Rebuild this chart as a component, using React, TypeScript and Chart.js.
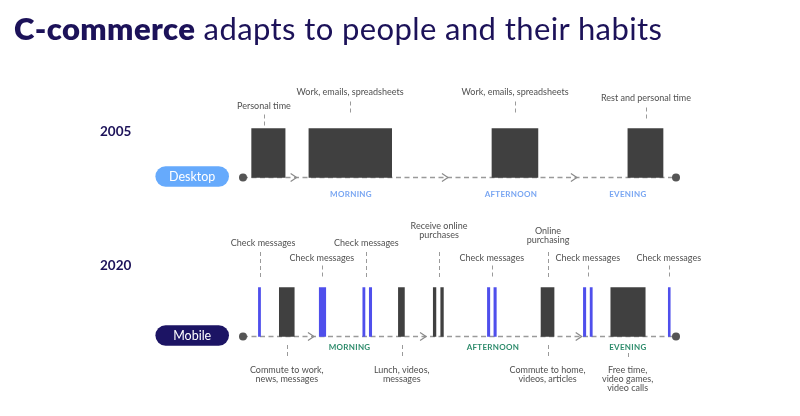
import React, { useEffect, useRef } from "react";
import { Chart, registerables } from "chart.js";

Chart.register(...registerables);

// ---------- DATA (time of day, hours) ----------
const ROWS = ["Desktop", "Mobile"];
const YEARS = ["2005", "2020"];
const DAY_START = 6;
const DAY_END = 24;

const desktopSessions: [number, number][] = [
  [6.36, 7.75],
  [8.74, 12.18],
  [16.35, 18.26],
  [22.0, 23.46],
];

const mobileSessions: [number, number][] = [
  [7.51, 8.13],
  [12.46, 12.71],
  [13.91, 14.02],
  [14.22, 14.33],
  [18.39, 18.93],
  [21.29, 22.72],
];

const mobileChecks: [number, number][] = [
  [6.64, 6.73],
  [9.17, 9.44],
  [10.98, 11.07],
  [11.25, 11.35],
  [16.16, 16.26],
  [16.43, 16.53],
  [20.15, 20.25],
  [20.43, 20.52],
  [23.68, 23.76],
];

const PERIODS = ["MORNING", "AFTERNOON", "EVENING"];
const desktopPeriodStarts = [8.23, 14.52, 19.88];
const desktopPeriodLabelAt = [10.49, 17.14, 22.0];
const mobilePeriodStarts = [8.95, 13.61, 20.08];
const mobilePeriodLabelAt = [10.43, 16.39, 22.0];

const desktopNoteTimes = [6.87, 10.45, 17.31, 22.75];
const desktopNoteTexts = [
  ["Personal time"],
  ["Work, emails, spreadsheets"],
  ["Work, emails, spreadsheets"],
  ["Rest and personal time"],
];

const mobileTopNoteTimes = [6.71, 9.28, 11.13, 14.15, 16.34, 18.68, 20.33, 23.7];
const mobileTopNoteTexts = [
  ["Check messages"],
  ["Check messages"],
  ["Check messages"],
  ["Receive online", "purchases"],
  ["Check messages"],
  ["Online", "purchasing"],
  ["Check messages"],
  ["Check messages"],
];

const mobileBottomNoteTimes = [7.82, 12.6, 18.66, 21.99];
const mobileBottomNoteTexts = [
  ["Commute to work,", "news, messages"],
  ["Lunch, videos,", "messages"],
  ["Commute to home,", "videos, articles"],
  ["Free time,", "video games,", "video calls"],
];

// ---------- LAYOUT / STYLE ----------
// tiers: offsets (px) relative to the bar top for notes above the bars
const TOP_TIERS = [
  { textBottom: -22, leaderTop: -14, leaderBottom: -1, dx: 0 },
  { textBottom: -36, leaderTop: -27, leaderBottom: -14, dx: 0 },
  { textBottom: -30, leaderTop: -21, leaderBottom: -9, dx: 0 },
  { textBottom: -44.5, leaderTop: -35.5, leaderBottom: -9.5, dx: 0 },
  { textBottom: -29.5, leaderTop: -22, leaderBottom: -9.5, dx: 0 },
  { textBottom: -52.5, leaderTop: -35.5, leaderBottom: -9.5, dx: 0 },
  { textBottom: -47, leaderTop: -35.5, leaderBottom: -9.5, dx: 0 },
  { textBottom: -44.5, leaderTop: -35.5, leaderBottom: -9.5, dx: 3 },
];
const desktopNoteTiers = [0, 1, 1, 2];
const mobileTopNoteTiers = [7, 4, 3, 5, 4, 6, 4, 4];
// offsets relative to the timeline for notes below
const BOTTOM_TIERS = [
  { leaderTop: 8.5, leaderBottom: 21.5, textTop: 33.5 },
  { leaderTop: 16.5, leaderBottom: 21.5, textTop: 33.5 },
];
const mobileBottomNoteTiers = [0, 0, 0, 1];

const YEAR_OFFSETS = [-45.5, -70.5]; // relative to timeline
const PILL_COLORS = ["#66aafc", "#1c1464"];
const PERIOD_COLORS = ["#79a6f2", "#2e8c6c"];
const DARK = "#404040";
const BLUE = "#4f4fec";
const NAVY = "#1c1259";
const NOTE_COLOR = "#505050";
const FONT = "Lato, 'Open Sans', sans-serif";

const overlayPlugin = {
  id: "timelineOverlay",
  beforeDatasetsDraw(chart: any) {
    const { ctx, scales } = chart;
    const xs = scales.x;
    const ys = scales.y;
    const half = 24.5;
    const starts = [desktopPeriodStarts, mobilePeriodStarts];
    ROWS.forEach((_, r) => {
      const ty = ys.getPixelForValue(r) + half;
      const x0 = xs.getPixelForValue(DAY_START);
      const x1 = xs.getPixelForValue(DAY_END);
      ctx.save();
      ctx.strokeStyle = "#9a9a9a";
      ctx.lineWidth = 1.5;
      ctx.setLineDash([5, 3.5]);
      ctx.beginPath();
      ctx.moveTo(x0, ty);
      ctx.lineTo(x1, ty);
      ctx.stroke();
      ctx.setLineDash([]);
      ctx.lineWidth = 1.2;
      ctx.strokeStyle = "#8a8a8a";
      starts[r].forEach((t) => {
        const ax = xs.getPixelForValue(t);
        ctx.beginPath();
        ctx.moveTo(ax - 6, ty - 4);
        ctx.lineTo(ax, ty);
        ctx.lineTo(ax - 6, ty + 4);
        ctx.stroke();
      });
      ctx.restore();
    });
  },
  afterDatasetsDraw(chart: any) {
    const { ctx, scales } = chart;
    const xs = scales.x;
    const ys = scales.y;
    const half = 24.5;
    const lineH = 9;

    const drawLeader = (x: number, yA: number, yB: number) => {
      ctx.save();
      ctx.strokeStyle = "#9a9a9a";
      ctx.lineWidth = 1;
      ctx.setLineDash([4, 3]);
      ctx.beginPath();
      ctx.moveTo(Math.round(x) + 0.5, yA);
      ctx.lineTo(Math.round(x) + 0.5, yB);
      ctx.stroke();
      ctx.restore();
    };

    ROWS.forEach((name, r) => {
      const cy = ys.getPixelForValue(r);
      const barTop = cy - half;
      const ty = cy + half;
      const x0 = xs.getPixelForValue(DAY_START);
      const x1 = xs.getPixelForValue(DAY_END);

      // end dots
      ctx.save();
      ctx.fillStyle = "#555555";
      [x0, x1].forEach((x) => {
        ctx.beginPath();
        ctx.arc(x, ty, 4, 0, Math.PI * 2);
        ctx.fill();
      });
      ctx.restore();

      // pill
      const pw = 73.6, ph = 20.5;
      const pr = x0 - 14;
      const pl = pr - pw;
      const pt = ty - 1 - ph / 2;
      ctx.save();
      ctx.fillStyle = PILL_COLORS[r];
      ctx.beginPath();
      ctx.roundRect(pl, pt, pw, ph, ph / 2);
      ctx.fill();
      ctx.fillStyle = "#ffffff";
      ctx.font = `12.5px ${FONT}`;
      ctx.textAlign = "center";
      ctx.textBaseline = "middle";
      ctx.fillText(name, pl + pw / 2, pt + ph / 2 + 0.5);
      ctx.restore();

      // year
      ctx.save();
      ctx.fillStyle = NAVY;
      ctx.font = `bold 13.5px ${FONT}`;
      ctx.textAlign = "left";
      ctx.textBaseline = "middle";
      ctx.fillText(YEARS[r], 100, ty + YEAR_OFFSETS[r]);
      ctx.restore();

      // period labels
      const labelAt = r === 0 ? desktopPeriodLabelAt : mobilePeriodLabelAt;
      ctx.save();
      ctx.fillStyle = PERIOD_COLORS[r];
      ctx.font = `bold 8px ${FONT}`;
      (ctx as any).letterSpacing = "0.3px";
      ctx.textAlign = "center";
      ctx.textBaseline = "middle";
      PERIODS.forEach((p, i) => {
        ctx.fillText(p, xs.getPixelForValue(labelAt[i]), ty + (r === 0 ? 16.5 : 10.5));
      });
      ctx.restore();

      // notes above
      const times = r === 0 ? desktopNoteTimes : mobileTopNoteTimes;
      const texts = r === 0 ? desktopNoteTexts : mobileTopNoteTexts;
      const tiers = r === 0 ? desktopNoteTiers : mobileTopNoteTiers;
      times.forEach((t, i) => {
        const x = xs.getPixelForValue(t);
        const tier = TOP_TIERS[tiers[i]];
        drawLeader(x, barTop + tier.leaderTop, barTop + tier.leaderBottom);
        ctx.save();
        ctx.fillStyle = NOTE_COLOR;
        ctx.font = `9px ${FONT}`;
        ctx.textAlign = "center";
        ctx.textBaseline = "middle";
        const lines = texts[i];
        lines.forEach((ln, k) => {
          const y = barTop + tier.textBottom - (lines.length - 1 - k) * lineH;
          ctx.fillText(ln, x + tier.dx, y);
        });
        ctx.restore();
      });

      // notes below (mobile only)
      if (r === 1) {
        mobileBottomNoteTimes.forEach((t, i) => {
          const x = xs.getPixelForValue(t);
          const tier = BOTTOM_TIERS[mobileBottomNoteTiers[i]];
          drawLeader(x, ty + tier.leaderTop, ty + tier.leaderBottom);
          ctx.save();
          ctx.fillStyle = NOTE_COLOR;
          ctx.font = `9px ${FONT}`;
          ctx.textAlign = "center";
          ctx.textBaseline = "middle";
          mobileBottomNoteTexts[i].forEach((ln, k) => {
            ctx.fillText(ln, x, ty + tier.textTop + k * lineH);
          });
          ctx.restore();
        });
      }
    });
  },
};

export default function App() {
  const ref = useRef<HTMLCanvasElement | null>(null);

  useEffect(() => {
    if (!ref.current) return;
    const toData = (row: string, ranges: [number, number][]) =>
      ranges.map((r) => ({ y: row, x: [r[0], r[1]] }));
    const chart = new Chart(ref.current, {
      type: "bar",
      data: {
        labels: ROWS,
        datasets: [
          {
            label: "Desktop use",
            data: toData("Desktop", desktopSessions) as any,
            backgroundColor: DARK,
            barThickness: 49,
            grouped: false,
          } as any,
          {
            label: "Mobile use",
            data: toData("Mobile", mobileSessions) as any,
            backgroundColor: DARK,
            barThickness: 49,
            grouped: false,
          } as any,
          {
            label: "Check messages",
            data: toData("Mobile", mobileChecks) as any,
            backgroundColor: BLUE,
            barThickness: 49,
            grouped: false,
          } as any,
        ],
      },
      options: {
        indexAxis: "y",
        animation: false,
        responsive: false,
        maintainAspectRatio: false,
        layout: { padding: { left: 243, right: 124, top: 73.5, bottom: 24.5 } },
        scales: {
          x: { type: "linear", min: DAY_START, max: DAY_END, display: false },
          y: { type: "category", display: false, offset: true },
        },
        plugins: {
          legend: { display: false },
          tooltip: { enabled: false },
          title: { display: false },
        },
      },
      plugins: [overlayPlugin],
    });
    return () => chart.destroy();
  }, []);

  return (
    <div style={{ position: "fixed", left: 0, top: 0, width: 800, height: 416, background: "#ffffff" }}>
      <canvas ref={ref} width={800} height={416} style={{ width: 800, height: 416, display: "block" }} />
      <div
        style={{
          position: "absolute",
          left: 14,
          top: 13,
          fontFamily: FONT,
          fontSize: 31,
          lineHeight: "30px",
          letterSpacing: "0.4px",
          color: NAVY,
          whiteSpace: "nowrap",
        }}
      >
        <span style={{ fontWeight: 800 }}>C-commerce</span> adapts to people and their habits
      </div>
    </div>
  );
}
